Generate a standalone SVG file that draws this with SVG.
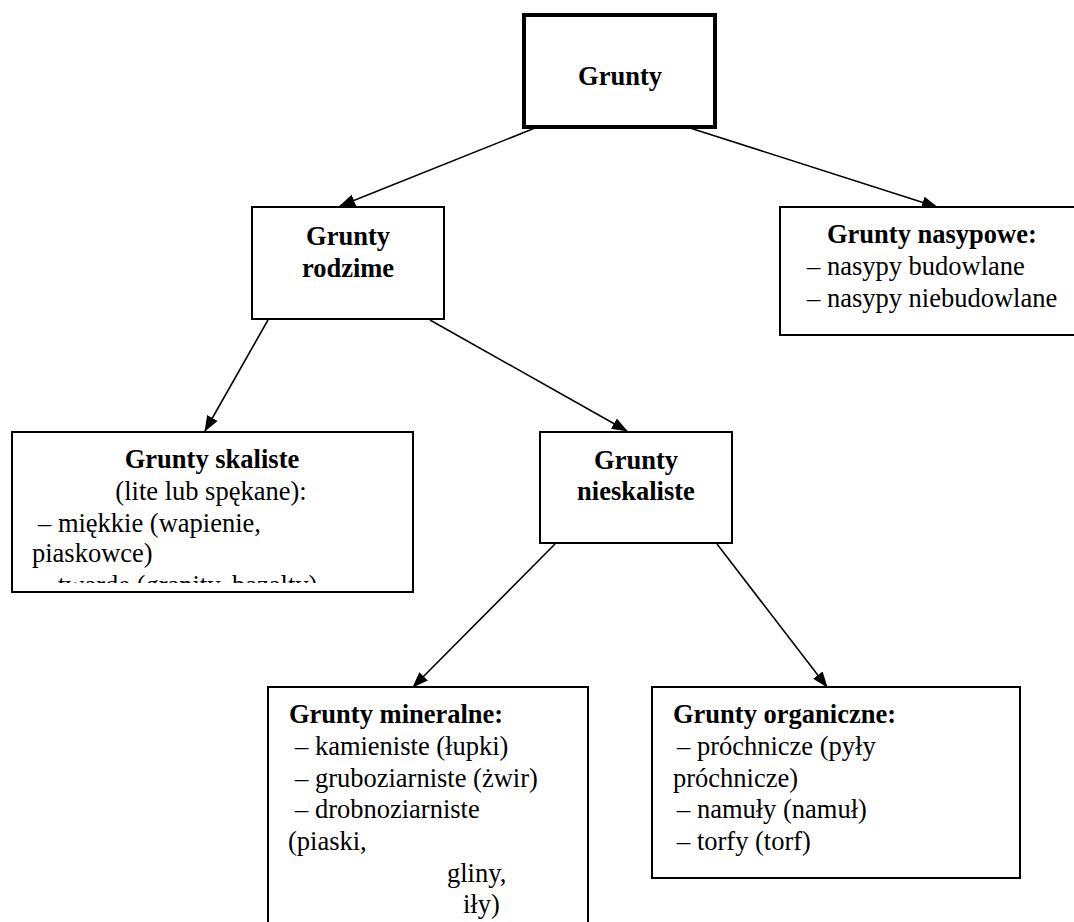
<svg xmlns="http://www.w3.org/2000/svg" width="1074" height="922" viewBox="0 0 1074 922">
<style>
.box{fill:#fff;stroke:#000;stroke-width:2}
.t{font-family:"Liberation Serif","Times New Roman",serif;font-size:26.5px;fill:#000}
.b{font-weight:bold}
.c{text-anchor:middle}
.con{stroke:#000;stroke-width:1.6;fill:none;marker-end:url(#ah)}
</style>
<defs>
<marker id="ah" markerUnits="userSpaceOnUse" markerWidth="16" markerHeight="14" refX="15" refY="6" orient="auto" viewBox="0 0 16 12">
<path d="M0,0 L16,6 L0,12 z" fill="#000"/>
</marker>
<clipPath id="skclip"><rect x="12" y="432" width="401" height="151"/></clipPath>
</defs>
<rect width="1074" height="922" fill="#fff"/>
<g id="connectors">
<line class="con" x1="535" y1="128" x2="340" y2="206"/>
<line class="con" x1="690" y1="128" x2="937" y2="207"/>
<line class="con" x1="268" y1="320" x2="205" y2="431"/>
<line class="con" x1="430" y1="320" x2="627" y2="431"/>
<line class="con" x1="555" y1="544" x2="413" y2="687"/>
<line class="con" x1="717" y1="544" x2="827" y2="687"/>
</g>
<g id="grunty">
<rect x="524" y="15" width="191" height="112" class="box" style="stroke-width:4"/>
<text class="t b c" x="620" y="85">Grunty</text>
</g>
<g id="rodzime">
<rect x="252" y="207" width="192" height="112" class="box"/>
<text class="t b c" x="348" y="245">Grunty</text>
<text class="t b c" x="348" y="277">rodzime</text>
</g>
<g id="nasypowe">
<rect x="780" y="207" width="310" height="128" class="box"/>
<text class="t b" x="827" y="243">Grunty nasypowe:</text>
<text class="t" x="807" y="275">– nasypy budowlane</text>
<text class="t" x="807" y="307">– nasypy niebudowlane</text>
</g>
<g id="skaliste">
<rect x="12" y="432" width="401" height="160" class="box"/>
<text class="t b c" x="212" y="468">Grunty skaliste</text>
<text class="t c" x="211" y="500">(lite lub spękane):</text>
<text class="t" x="38" y="532">– miękkie (wapienie,</text>
<text class="t" x="32" y="562">piaskowce)</text>
<text class="t" x="38" y="594" clip-path="url(#skclip)">– twarde (granity, bazalty)</text>
</g>
<g id="nieskaliste">
<rect x="540" y="432" width="192" height="111" class="box"/>
<text class="t b c" x="636" y="469">Grunty</text>
<text class="t b c" x="636" y="500">nieskaliste</text>
</g>
<g id="mineralne">
<rect x="268" y="687" width="320" height="250" class="box"/>
<text class="t b" x="289" y="723">Grunty mineralne:</text>
<text class="t" x="295" y="755">– kamieniste (łupki)</text>
<text class="t" x="295" y="787">– gruboziarniste (żwir)</text>
<text class="t" x="295" y="818">– drobnoziarniste</text>
<text class="t" x="288" y="850">(piaski,</text>
<text class="t" x="447" y="882">gliny,</text>
<text class="t" x="463" y="913">iły)</text>
</g>
<g id="organiczne">
<rect x="652" y="687" width="368" height="191" class="box"/>
<text class="t b" x="673" y="723">Grunty organiczne:</text>
<text class="t" x="677" y="755">– próchnicze (pyły</text>
<text class="t" x="673" y="787">próchnicze)</text>
<text class="t" x="677" y="818">– namuły (namuł)</text>
<text class="t" x="677" y="850">– torfy (torf)</text>
</g>
</svg>
